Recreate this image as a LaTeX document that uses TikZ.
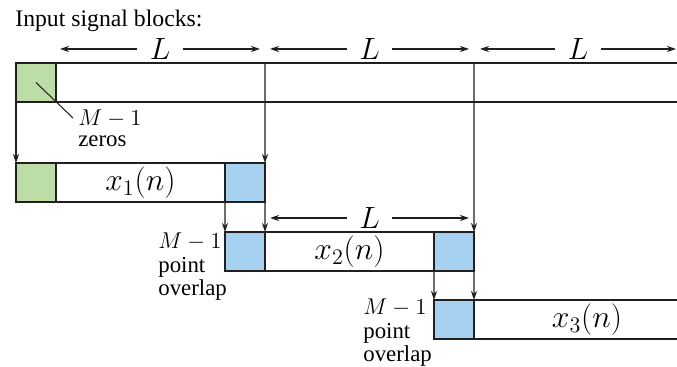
\documentclass[tikz,border=0pt]{standalone}
\usepackage{fix-cm}
\usepackage[no-math]{fontspec}
\setmainfont{Liberation Serif}
\usetikzlibrary{arrows.meta}
\definecolor{padgreen}{HTML}{BDDDA6}
\definecolor{lapblue}{HTML}{A6D1F1}
\definecolor{ink}{HTML}{231F20}

\begin{document}
\begin{tikzpicture}[
	>={Stealth[length=1.8mm, width=1.2mm]},
	edge/.style={draw=ink, line width=0.9pt},
	cell/.style={edge, inner sep=0pt, outer sep=0pt, minimum height=0.78cm},
	zeropad/.style={cell, fill=padgreen, minimum width=0.8cm},
	overlap/.style={cell, fill=lapblue, minimum width=0.8cm},
	block/.style={cell, minimum width=4.98cm, font=\fontsize{18}{18}\selectfont},
	feed/.style={->, draw=ink, line width=0.7pt},
	span/.style={<->, draw=ink, line width=0.7pt},
	spanlabel/.style={fill=white, inner xsep=0.25cm, inner ysep=0pt, font=\fontsize{17.5}{17.5}\selectfont},
	note/.style={align=left, inner sep=0pt, font=\fontsize{13}{13.2}\selectfont}
	]
	\useasboundingbox (0,0) rectangle (13.54,-7.34);
	
	% ==========================================
	% INPUT SIGNAL (zero padded)
	% ==========================================
	
	\node[anchor=base west, inner sep=0pt, font=\fontsize{13.5}{13.5}\selectfont] (title) at (0.3,-0.54) {Input signal blocks:};
	
	% Block borders of the long input
	\coordinate (s0) at (0.32,-1.26);
	\coordinate (cut1) at (5.3,-1.26);
	\coordinate (cut2) at (9.48,-1.26);
	\node[zeropad, anchor=north west] (z0) at (s0) {};
	\draw[edge] (13.54,-1.26) -- (s0) -- (z0.south west) -- (13.54,-2.04);
	
	% Block lengths
	\draw[span] (1.2,-0.98) -- node[spanlabel] {$L$} (5.2,-0.98);
	\draw[span] (5.4,-0.98) -- node[spanlabel] {$L$} (9.38,-0.98);
	\draw[span] (9.6,-0.98) -- node[spanlabel] {$L$} (13.52,-0.98);
	
	% The padded zeros
	\node[note, anchor=north west, font=\fontsize{13}{11.5}\selectfont] (zeros) at (1.56,-2.2) {$M-1$\\zeros};
	\draw[draw=ink, line width=0.6pt] (z0.center) -- ([shift={(-0.1,-0.16)}]zeros.north west);
	
	% ==========================================
	% BLOCK 1
	% ==========================================
	
	\node[block, anchor=north west] (b1) at (0.32,-3.26) {$x_1(n)$};
	\node[zeropad, anchor=north west] (z1) at (b1.north west) {};
	\node[overlap, anchor=north east] (o1) at (b1.north east) {};
	
	\draw[feed] (z0.south west) -- (b1.north west);
	\draw[feed] (cut1) -- (b1.north east);
	
	% ==========================================
	% BLOCK 2
	% ==========================================
	
	\node[block, anchor=north west] (b2) at (4.5,-4.64) {$x_2(n)$};
	\node[overlap, anchor=north west] (o2a) at (b2.north west) {};
	\node[overlap, anchor=north east] (o2b) at (b2.north east) {};
	\node[note, anchor=north west] (lap2) at (3.16,-4.66) {$M-1$\\point\\overlap};
	
	\draw[feed] (o1.south west) -- (o2a.north west);
	\draw[feed] (o1.south east) -- (o2a.north east);
	\draw[feed] (cut2) -- (b2.north east);
	\draw[span] (5.4,-4.36) -- node[spanlabel] {$L$} (9.38,-4.36);
	
	% ==========================================
	% BLOCK 3 (runs on to the right)
	% ==========================================
	
	\node[overlap, anchor=north west] (o3) at (8.68,-6.0) {};
	\draw[edge] (o3.north east) -- (13.54,-6.0);
	\draw[edge] (o3.south east) -- (13.54,-6.78);
	\node[font=\fontsize{18}{18}\selectfont] (x3) at (11.74,-6.39) {$x_3(n)$};
	\node[note, anchor=north west] (lap3) at (7.26,-5.98) {$M-1$\\point\\overlap};
	
	\draw[feed] (o2b.south west) -- (o3.north west);
	\draw[feed] (o2b.south east) -- (o3.north east);
\end{tikzpicture}
\end{document}
